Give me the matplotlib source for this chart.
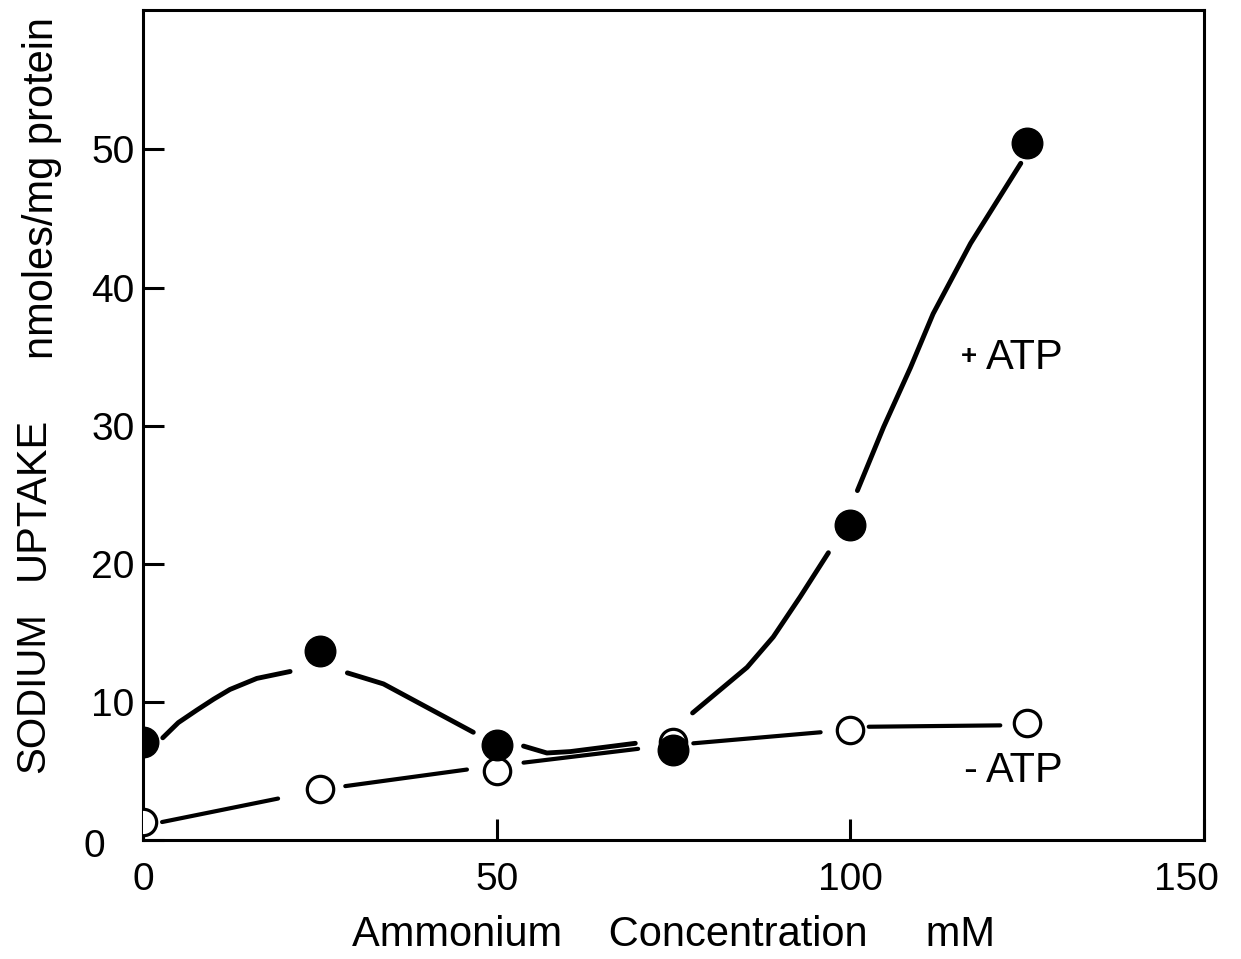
import matplotlib
matplotlib.use("Agg")
import matplotlib.pyplot as plt
import matplotlib.transforms as mtransforms
import numpy as np

plt.rcParams['font.family'] = ['Liberation Sans', 'DejaVu Sans']

# measured points (ammonium mM vs sodium uptake nmoles/mg protein)
conc = [0, 25, 50, 75, 100, 125]
plus_atp = [7.1, 13.7, 6.9, 6.5, 22.8, 50.5]
minus_atp = [1.3, 3.7, 5.0, 7.1, 8.0, 8.5]

# hand drawn curves, nan = break in the pen line
plus_curve_x = [2.8, 5.0, 7.6, 10.0, 12.3, 16.1, 20.8, np.nan,
                28.9, 32.1, 34.0, 46.7, np.nan,
                53.8, 57.1, 60.4, 69.6, np.nan,
                77.7, 85.4, 89.1, 92.9, 96.9, np.nan,
                101.0, 104.7, 108.5, 111.7, 117.0, 124.1]
plus_curve_y = [7.4, 8.5, 9.4, 10.2, 10.9, 11.7, 12.2, np.nan,
                12.1, 11.6, 11.3, 7.8, np.nan,
                6.8, 6.3, 6.4, 7.0, np.nan,
                9.2, 12.5, 14.7, 17.6, 20.8, np.nan,
                25.3, 29.9, 34.2, 38.1, 43.2, 49.0]
minus_curve_x = [2.7, 19.1, np.nan, 28.6, 45.8, np.nan, 53.8, 70.0, np.nan,
                 77.8, 95.8, np.nan, 102.6, 121.2]
minus_curve_y = [1.3, 3.0, np.nan, 3.9, 5.1, np.nan, 5.6, 6.6, np.nan,
                 7.0, 7.8, np.nan, 8.2, 8.3]

x_ticks = [0, 50, 100, 150]
y_ticks = [0, 10, 20, 30, 40, 50]

fig = plt.figure(figsize=(12.41, 9.59), dpi=100)
ax = fig.add_axes([0.1152, 0.1241, 0.855, 0.8655])

ax.plot(plus_curve_x, plus_curve_y, color='black', lw=3.5, solid_capstyle='round', zorder=2)
ax.plot(minus_curve_x, minus_curve_y, color='black', lw=3.0, solid_capstyle='round', zorder=2)
ax.plot(conc, minus_atp, 'o', ms=19, mfc='white', mec='black', mew=2.3, zorder=3)
ax.plot(conc, plus_atp, 'o', ms=22, mfc='black', mec='black', mew=1, zorder=4)

ax.text(116.8, 34.5, '+', fontsize=20, fontweight='bold', ha='center', va='baseline')
ax.text(119.2, 34.1, 'ATP', fontsize=30, ha='left', va='baseline')
ax.text(116.9, 4.2, '-', fontsize=30, ha='center', va='baseline')
ax.text(119.2, 4.2, 'ATP', fontsize=30, ha='left', va='baseline')

ax.set_xlim(0, 150)
ax.set_ylim(0, 60.1)
ax.set_xticks(x_ticks)
ax.set_yticks(y_ticks)
ax.tick_params(direction='in', length=15, width=2.2, color='black', labelsize=28,
               top=False, right=False)
ax.tick_params(axis='x', pad=16)
ax.tick_params(axis='y', pad=6)
for s in ax.spines.values():
    s.set_linewidth(2.2)

for lbl in ax.get_yticklabels():
    if lbl.get_text() == '0':
        lbl.set_transform(lbl.get_transform() + mtransforms.ScaledTranslation(-0.3, -0.03, fig.dpi_scale_trans))
for lbl in ax.get_xticklabels():
    if lbl.get_text() == '150':
        lbl.set_transform(lbl.get_transform() + mtransforms.ScaledTranslation(-0.18, 0, fig.dpi_scale_trans))

ax.set_xlabel('Ammonium    Concentration     mM', fontsize=30, labelpad=12)

# y label is three separate pieces in the original
fig.text(0.0355, 0.2774, 'SODIUM', fontsize=29, rotation=90, rotation_mode='anchor',
         ha='center', va='baseline')
fig.text(0.0355, 0.4807, 'UPTAKE', fontsize=30, rotation=90, rotation_mode='anchor',
         ha='center', va='baseline')
fig.text(0.0427, 0.804, 'nmoles/mg protein', fontsize=30, rotation=90, rotation_mode='anchor',
         ha='center', va='baseline')

fig.savefig('out.png', dpi=100)
